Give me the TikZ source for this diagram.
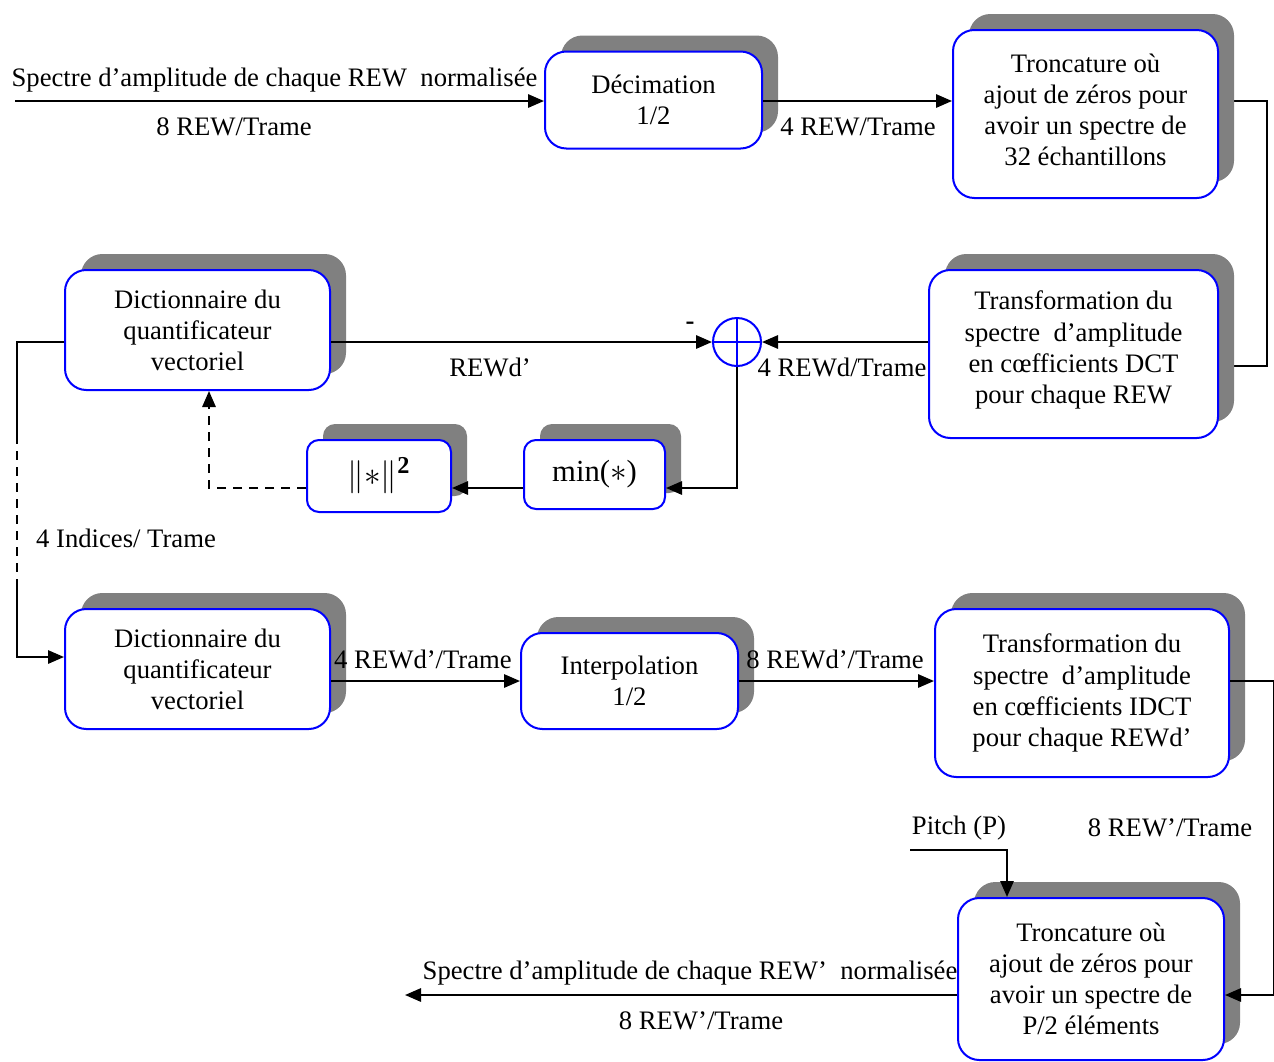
\documentclass[tikz,border=0pt]{standalone}
\usepackage{fontspec}
\setmainfont{Liberation Serif}
\usetikzlibrary{arrows.meta,shadows,calc}
\definecolor{shadowgray}{HTML}{808080}
\pgfdeclarelayer{background}
\pgfsetlayers{background,main}
\begin{document}
\begin{tikzpicture}[x=0.75pt,y=-0.75pt,
  font=\fontsize{20}{23.3}\selectfont,
  blk/.style={draw=blue, line width=1.5pt, fill=white, align=center,
    inner sep=0pt, rounded corners=16pt,
    drop shadow={shadow xshift=12pt, shadow yshift=12pt, opacity=1, fill=shadowgray}},
  smallblk/.style={blk, rounded corners=9pt},
  sz/.style 2 args={minimum width=#1*0.75pt, minimum height=#2*0.75pt},
  wire/.style={line width=1.5pt},
  arr/.style={wire, -{Triangle[length=12pt,width=10pt]}},
  lbl/.style={inner sep=0pt}]
\useasboundingbox (0,0) rectangle (1274,1061);

% processing blocks
\node[blk, sz={217}{97}] (dec) at (653.5,100) {Décimation\\1/2};
\node[blk, sz={265}{168}] (trunc1) at (1085.5,114) {};
\node[align=center, inner sep=0pt] (trunc1t) at (1085.5,110) {Troncature où\\ajout de zéros pour\\avoir un spectre de\\32 échantillons};
\node[blk, sz={289}{168}] (dct) at (1073.5,354) {};
\node[align=center, inner sep=0pt] (dctt) at (1073.5,350) {Transformation du\\spectre~~d’amplitude\\en cœfficients DCT\\pour chaque REW};
\node[blk, sz={265}{120}] (dict1) at (197.5,330) {Dictionnaire du\\quantificateur\\vectoriel};
\node[smallblk, sz={144}{72}] (norm) at (379,476) {\fontsize{26}{28}\selectfont$\|{\ast}\|^{\mathbf{2}}$};
\node[smallblk, sz={141}{69}] (minb) at (594.5,474.5) {\fontsize{23}{27}\selectfont min($\ast$)};
\node[blk, sz={265}{120}] (dict2) at (197.5,669) {Dictionnaire du\\quantificateur\\vectoriel};
\node[blk, sz={217}{96}] (interp) at (629.5,681) {Interpolation\\1/2};
\node[blk, sz={294}{168}] (idct) at (1082,693) {Transformation du\\spectre~~d’amplitude\\en cœfficients IDCT\\pour chaque REWd’};
\node[blk, sz={266}{162}] (trunc2) at (1091,979) {Troncature où\\ajout de zéros pour\\avoir un spectre de\\P/2 éléments};

% summing junction
\node[circle, draw=blue, line width=1.5pt, minimum size=36pt, inner sep=0pt] (sum) at (737,342) {};
\draw[blue, line width=1.5pt] (sum.north) -- (sum.south) (sum.west) -- (sum.east);

% helper coordinates
\coordinate (in) at (15,101);
\coordinate (row) at (0,488);
\coordinate (fb) at (209,0);
\coordinate (lx) at (17,0);
\coordinate (pitch) at (910,850);
\coordinate (out) at (405,995);

% connector passing behind the shadow of the DCT block
\begin{pgfonlayer}{background}
\draw[wire] (trunc1.east |- in) -| ($(dct.east)+(48,12)$) -- ($(dct.east)+(0,12)$);
\end{pgfonlayer}

% connectors
\draw[arr] (in) -- (in -| dec.west);
\draw[arr] (dec.east |- in) -- (in -| trunc1.west);
\draw[arr] (dct.west |- sum) -- (sum.east);
\draw[arr] (dict1.east |- sum) -- (sum.west);
\draw[arr] (sum.south) |- (minb.east |- row);
\draw[arr] (minb.west |- row) -- (norm.east |- row);
\draw[arr, dash pattern=on 7pt off 5pt] (norm.west |- row) -| (dict1.south -| fb);
\draw[wire] (dict1.west |- sum) -| ($(lx)+(0,435)$) coordinate (d1);
\draw[wire, dash pattern=on 7pt off 5pt] (d1) -- ($(lx)+(0,587)$) coordinate (d2);
\draw[arr] (d2) |- ($(dict2.west)+(0,-12)$);
\draw[arr] (dict2.east |- interp) -- (interp.west);
\draw[arr] (interp.east) -- (interp.east -| idct.west);
\draw[arr] ($(idct.east)+(0,-12)$) -| ($(trunc2.east)+(49,16)$) -- ($(trunc2.east)+(0,16)$);
\draw[arr] (pitch) -| ($(trunc2.north)+(-84,0)$);
\draw[arr] ($(trunc2.west)+(0,16)$) -- (out);

% labels
\node[lbl] (t1) at (274.5,80) {Spectre d’amplitude de chaque REW~~normalisée};
\node[lbl] (t2) at (234,127) {8 REW/Trame};
\node[lbl] (t3) at (858,127) {4 REW/Trame};
\node[lbl] (t4) at (690,326) {\textbf{-}};
\node[lbl] (t5) at (490,367) {REWd’};
\node[lbl] (t6) at (842,367) {4 REWd/Trame};
\node[lbl] (t7) at (126,538) {4 Indices/ Trame};
\node[lbl] (t8) at (423,659) {4 REWd’/Trame};
\node[lbl] (t9) at (835,659) {8 REWd’/Trame};
\node[lbl] (t10) at (959,828) {Pitch (P)};
\node[lbl] (t11) at (1170,828) {8 REW’/Trame};
\node[lbl] (t12) at (690,973) {Spectre d’amplitude de chaque REW’~~normalisée};
\node[lbl] (t13) at (701,1021) {8 REW’/Trame};
\end{tikzpicture}
\end{document}
